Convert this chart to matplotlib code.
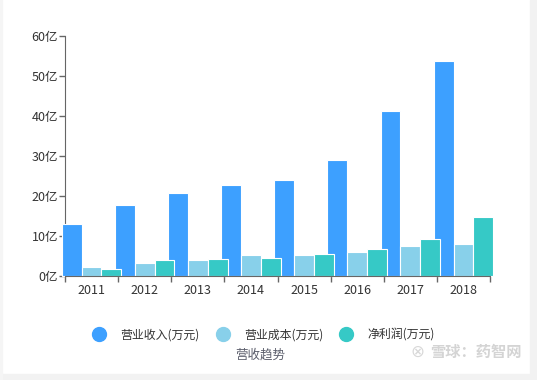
import numpy as np
import matplotlib
matplotlib.use('Agg')
import matplotlib.pyplot as plt
from matplotlib.lines import Line2D
from matplotlib.patches import Rectangle

plt.rcParams['font.family'] = ['Noto Sans CJK SC', 'DejaVu Sans']

years = ['2011', '2012', '2013', '2014', '2015', '2016', '2017', '2018']
# values in 亿
revenue = [13.0, 17.7, 20.6, 22.8, 24.0, 29.0, 41.1, 53.8]
cost = [2.25, 3.25, 4.0, 5.3, 5.25, 6.1, 7.5, 8.1]
profit = [1.75, 4.1, 4.25, 4.5, 5.5, 6.8, 9.3, 14.7]
series_names = ['营业收入(万元)', '营业成本(万元)', '净利润(万元)']
colors = ['#3da0ff', '#88d0ea', '#36c9c6']
yticks = [0, 10, 20, 30, 40, 50, 60]

W, H = 537, 380
fig = plt.figure(figsize=(W / 100, H / 100), dpi=100)
ax = fig.add_axes([65 / W, 1 - 276 / H, (490 - 65) / W, (276 - 35.7) / H])

x = np.arange(len(years))
step = 0.373
for i, vals in enumerate([revenue, cost, profit]):
    ax.bar(x + (i - 1) * step, vals, width=step, color=colors[i],
           edgecolor='white', linewidth=0.8, clip_on=False, zorder=2)

ax.set_xlim(-0.5, len(years) - 0.5)
ax.set_ylim(0, 60)
ax.set_yticks(yticks)
ax.set_yticklabels(['{}亿'.format(v) for v in yticks])
ax.set_xticks(x)
ax.set_xticklabels(years)
ax.set_xticks(np.arange(-0.5, len(years)), minor=True)
ax.tick_params(axis='x', which='major', length=0, pad=6, labelsize=9, labelcolor='#333333')
ax.tick_params(axis='x', which='minor', length=4, color='#666666', width=1)
ax.tick_params(axis='y', length=4, color='#666666', width=1, pad=1, labelsize=9, labelcolor='#333333')
for s in ['top', 'right']:
    ax.spines[s].set_visible(False)
for s in ['left', 'bottom']:
    ax.spines[s].set_color('#666666')
ax.spines['left'].set_zorder(1)
ax.spines['bottom'].set_zorder(3)

handles = [Line2D([], [], marker='o', linestyle='none', markersize=10,
                  markerfacecolor=c, markeredgecolor=c) for c in colors]
fig.legend(handles, series_names, loc='center', bbox_to_anchor=(261 / W, 1 - 335 / H),
           ncol=3, frameon=False, fontsize=8.6, handletextpad=0.8, columnspacing=0.9,
           labelcolor='#333333')
fig.text(260 / W, 1 - 355 / H, '营收趋势', ha='center', va='center', fontsize=9,
         color='#5a5d6b', fontweight='medium')
fig.text(417 / W, 1 - 352 / H, '⊗', ha='center', va='center', fontsize=12,
         color='#d8d8d8', family=['DejaVu Sans'])
fig.text(476 / W, 1 - 352 / H, '雪球：药智网', ha='center', va='center', fontsize=11,
         color='#d4d4d4', fontweight='bold')

# light grey frame on the right and bottom edges
fig.patches.append(Rectangle((530 / W, 0), 7 / W, 1, transform=fig.transFigure,
                             color='#f2f2f2', zorder=0))
fig.patches.append(Rectangle((0, 0), 1, 6 / H, transform=fig.transFigure,
                             color='#f2f2f2', zorder=0))
fig.patches.append(Rectangle((0, 0), 2 / W, 1, transform=fig.transFigure,
                             color='#f5f5f5', zorder=0))

fig.savefig('out.png', dpi=100)
